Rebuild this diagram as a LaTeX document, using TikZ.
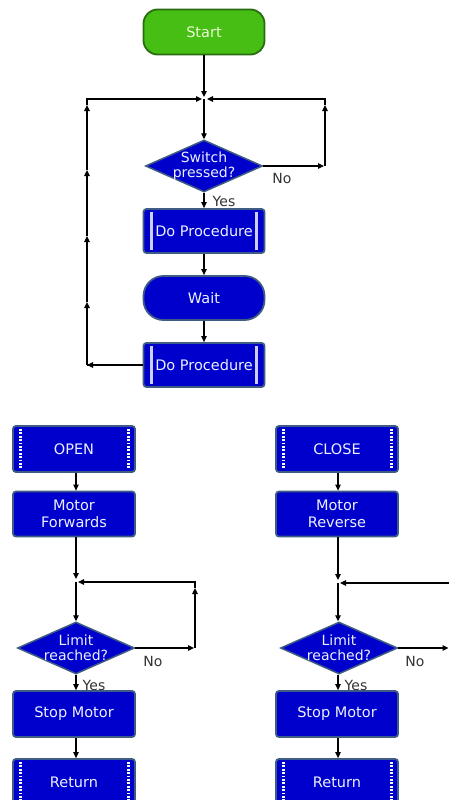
\documentclass[tikz,border=0pt]{standalone}
\usepackage{fontspec}
\setmainfont{DejaVu Sans}
\usetikzlibrary{shapes.geometric,arrows.meta}
\definecolor{boxblue}{RGB}{0,0,204}
\definecolor{boxedge}{RGB}{62,92,132}
\definecolor{barcol}{RGB}{205,205,245}
\definecolor{grfill}{RGB}{70,190,20}
\definecolor{gredge}{RGB}{40,110,15}
\definecolor{txtcol}{RGB}{235,240,255}
\definecolor{starttxt}{RGB}{235,250,210}
\tikzset{
  box/.style={rectangle, rounded corners=3pt, fill=boxblue, draw=boxedge, line width=1.8pt,
    minimum width=121pt, minimum height=44pt, text=txtcol, font=\fontsize{14.5}{17}\selectfont,
    align=center, inner sep=0pt},
  subbox/.style={box, path picture={
    \draw[barcol, line width=2.6pt] ([xshift=8pt,yshift=-3pt]path picture bounding box.north west) -- ([xshift=8pt,yshift=3pt]path picture bounding box.south west);
    \draw[barcol, line width=2.6pt] ([xshift=-8pt,yshift=-3pt]path picture bounding box.north east) -- ([xshift=-8pt,yshift=3pt]path picture bounding box.south east);}},
  filmbox/.style={box, minimum width=122pt, minimum height=46pt, path picture={
    \draw[white, line width=3pt, dash pattern=on 1.8pt off 1.6pt] ([xshift=7pt,yshift=-3pt]path picture bounding box.north west) -- ([xshift=7pt,yshift=3pt]path picture bounding box.south west);
    \draw[white, line width=3pt, dash pattern=on 1.8pt off 1.6pt] ([xshift=-7pt,yshift=-3pt]path picture bounding box.north east) -- ([xshift=-7pt,yshift=3pt]path picture bounding box.south east);}},
  plainbox/.style={box, minimum width=122pt, minimum height=45pt},
  termbox/.style={box, rounded corners=20pt},
  startbox/.style={box, rounded corners=14pt, fill=grfill, draw=gredge, minimum height=45pt, text=starttxt},
  decbox/.style={diamond, fill=boxblue, draw=boxedge, line width=1.5pt, minimum width=117pt,
    minimum height=52pt, inner sep=0pt},
  dectxt/.style={text=txtcol, font=\fontsize{14}{15.5}\selectfont, align=center},
  arr/.style={-{Triangle[length=6pt,width=5.5pt]}, line width=1.2pt},
  ln/.style={line width=1.2pt},
  lbl/.style={font=\fontsize{14}{16}\selectfont, text=black!80, inner sep=0pt}
}
\begin{document}
\begin{tikzpicture}[x=1pt,y=1pt]
\useasboundingbox (0,0) rectangle (449,-800);
\clip (0,0) rectangle (449,-800);
\fill[white] (0,0) rectangle (449,-800);

% ---------- top flow ----------
\node[startbox] (start) at (204,-32) {Start};
\coordinate (j1) at (204,-99);
\node[decbox, label={[dectxt]center:{Switch\\pressed?}}] (sw) at (204,-166) {};
\node[subbox] (dp1) at (204,-231) {Do Procedure};
\node[termbox] (wait) at (204,-298) {Wait};
\node[subbox] (dp2) at (204,-365) {Do Procedure};

\coordinate (r1) at (325,-166);
\coordinate (r2) at (325,-105);
\coordinate (r3) at (325,-99);
\coordinate (l0) at (87,-365);
\coordinate (l1) at (87,-302);
\coordinate (l2) at (87,-236);
\coordinate (l3) at (87,-170);
\coordinate (l4) at (87,-105);
\coordinate (l5) at (87,-99);

\draw[arr, shorten >=2pt] (start) -- (j1);
\draw[arr] (j1) -- (sw.north);
\draw[arr] (sw.south) -- (dp1.north);
\draw[arr] (dp1) -- (wait);
\draw[arr] (wait) -- (dp2);
% right "No" loop
\draw[arr, shorten >=1pt] (sw.east) -- (r1);
\draw[arr] (r1) -- (r2);
\draw[arr, shorten >=3pt] (r2) -- (r3) -- (j1);
% left return loop
\draw[arr, shorten >=-3pt] (dp2.west) -- ([xshift=3pt]l0);
\draw[ln] ([xshift=3pt]l0) -- (l0);
\draw[arr] (l0) -- (l1);
\draw[arr] (l1) -- (l2);
\draw[arr] (l2) -- (l3);
\draw[arr] (l3) -- (l4);
\draw[arr, shorten >=2pt] (l4) -- (l5) -- (j1);

\node[lbl] (no1) at (282,-178) {No};
\node[lbl] (yes1) at (224,-201) {Yes};

% ---------- OPEN flow ----------
\node[filmbox] (open) at (74,-449) {OPEN};
\node[plainbox] (mf) at (74,-514) {Motor\\Forwards};
\coordinate (j2) at (76,-582);
\node[decbox, label={[dectxt]center:{Limit\\reached?}}] (lim1) at (76,-648) {};
\node[plainbox, minimum height=46pt] (stop1) at (74,-714) {Stop Motor};
\node[filmbox] (ret1) at (74,-782) {Return};

\coordinate (a1) at (195,-648);
\coordinate (a2) at (195,-588);
\coordinate (a3) at (195,-582);

\draw[arr] (open.south -| j2) -- (mf.north -| j2);
\draw[arr, shorten >=3pt] (mf.south -| j2) -- (j2);
\draw[arr] (j2) -- (lim1.north);
\draw[arr, shorten >=1pt] (lim1.east) -- (a1);
\draw[arr] (a1) -- (a2);
\draw[arr, shorten >=2pt] (a2) -- (a3) -- (j2);
\draw[arr] (lim1.south) -- (stop1.north -| j2);
\draw[arr] (stop1.south -| j2) -- (ret1.north -| j2);

\node[lbl] (no2) at (153,-661) {No};
\node[lbl] (yes2) at (94,-685) {Yes};

% ---------- CLOSE flow ----------
\node[filmbox] (close) at (337,-449) {CLOSE};
\node[plainbox] (mr) at (337,-514) {Motor\\Reverse};
\coordinate (j3) at (338,-583);
\node[decbox, label={[dectxt]center:{Limit\\reached?}}] (lim2) at (339,-648) {};
\node[plainbox, minimum height=46pt] (stop2) at (337,-714) {Stop Motor};
\node[filmbox] (ret2) at (337,-782) {Return};

\coordinate (b1) at (449,-648);
\coordinate (b3) at (452,-583);

\draw[arr] (close.south -| j3) -- (mr.north -| j3);
\draw[arr, shorten >=3pt] (mr.south -| j3) -- (j3);
\draw[arr] (j3) -- (lim2.north -| j3);
\draw[arr, shorten >=0.5pt] (lim2.east) -- (b1);
\draw[arr, shorten >=2pt] (b3) -- (j3);
\draw[arr] (lim2.south -| j3) -- (stop2.north -| j3);
\draw[arr] (stop2.south -| j3) -- (ret2.north -| j3);

\node[lbl] (no3) at (415,-661) {No};
\node[lbl] (yes3) at (356,-685) {Yes};
\end{tikzpicture}
\end{document}
